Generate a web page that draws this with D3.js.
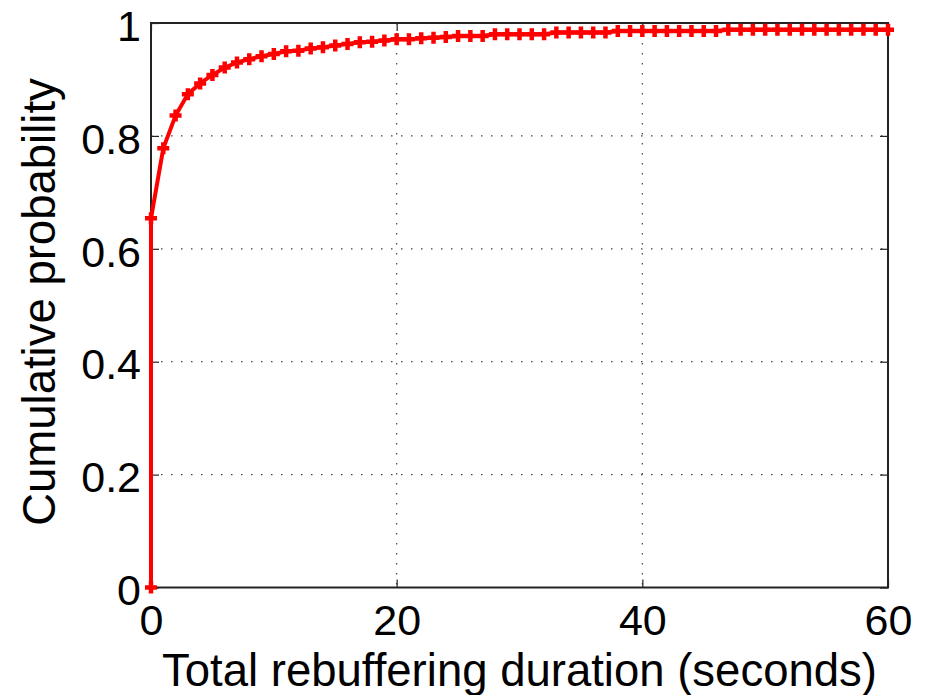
<!DOCTYPE html>
<html>
<head>
<meta charset="utf-8">
<script src="https://cdn.jsdelivr.net/npm/d3@7"></script>
<style>
  html, body { margin: 0; padding: 0; background: #fff; }
  svg { display: block; }
  text { font-family: "Liberation Sans", Arial, Helvetica, sans-serif; fill: #000; }
</style>
</head>
<body>
<svg id="chart" width="929" height="695"></svg>
<script>
// ---- data ----
const seconds = [0, 0, 1, 2, 3, 4, 5, 6, 7, 8, 9, 10, 11, 12, 13, 14, 15, 16, 17, 18, 19, 20,
  21, 22, 23, 24, 25, 26, 27, 28, 29, 30, 31, 32, 33, 34, 35, 36, 37, 38, 39, 40,
  41, 42, 43, 44, 45, 46, 47, 48, 49, 50, 51, 52, 53, 54, 55, 56, 57, 58, 59, 60];
const cdf = [0, 0.654, 0.778, 0.836, 0.874, 0.893, 0.908, 0.921, 0.930, 0.936, 0.941, 0.945,
  0.950, 0.951, 0.955, 0.957, 0.960, 0.963, 0.966, 0.967, 0.969, 0.971,
  0.971, 0.973, 0.974, 0.975, 0.977, 0.977, 0.977, 0.980, 0.980, 0.980, 0.980, 0.980,
  0.983, 0.983, 0.983, 0.983, 0.983, 0.986, 0.986, 0.986, 0.986, 0.986, 0.986, 0.986,
  0.986, 0.986, 0.988, 0.988, 0.988, 0.988, 0.988, 0.988, 0.988, 0.988, 0.988, 0.988,
  0.988, 0.988, 0.988, 0.988];
const xTicks = [0, 20, 40, 60];
const yTicks = [0, 0.2, 0.4, 0.6, 0.8, 1];
const xLabel = "Total rebuffering duration (seconds)";
const yLabel = "Cumulative probability";

// ---- layout ----
const W = 929, H = 695;
const m = { left: 151, top: 23, right: 41, bottom: 107.5 };
const iw = W - m.left - m.right, ih = H - m.top - m.bottom;

const svg = d3.select("#chart");
const g = svg.append("g").attr("transform", `translate(${m.left},${m.top})`);

const x = d3.scaleLinear().domain([0, 60]).range([0, iw]);
const y = d3.scaleLinear().domain([0, 1]).range([ih, 0]);

// grid (dotted)
const gridStyle = sel => sel.attr("stroke", "#444").attr("stroke-width", 1.2)
  .attr("stroke-dasharray", "1.5,8.5");
g.append("g").selectAll("line").data(xTicks.filter(d => d > 0 && d < 60)).join("line")
  .attr("x1", d => x(d)).attr("x2", d => x(d)).attr("y1", 0).attr("y2", ih).call(gridStyle);
g.append("g").selectAll("line").data(yTicks.filter(d => d > 0 && d < 1)).join("line")
  .attr("x1", 0).attr("x2", iw).attr("y1", d => y(d)).attr("y2", d => y(d)).call(gridStyle);

// axes with inward ticks
const fontSize = 43;
const axB = g.append("g").attr("transform", `translate(0,${ih})`)
  .call(d3.axisBottom(x).tickValues(xTicks).tickSizeInner(-8).tickSizeOuter(0).tickPadding(20).tickFormat(d3.format("d")));
const axT = g.append("g")
  .call(d3.axisTop(x).tickValues(xTicks).tickSizeInner(-8).tickSizeOuter(0).tickFormat(""));
const axL = g.append("g")
  .call(d3.axisLeft(y).tickValues(yTicks).tickSizeInner(-8).tickSizeOuter(0).tickPadding(10).tickFormat(d => d === 0 || d === 1 ? d3.format("d")(d) : d3.format(".1f")(d)));
const axR = g.append("g").attr("transform", `translate(${iw},0)`)
  .call(d3.axisRight(y).tickValues(yTicks).tickSizeInner(-8).tickSizeOuter(0).tickFormat(""));
[axB, axT, axL, axR].forEach(a => {
  a.select(".domain").remove();
  a.selectAll(".tick line").attr("stroke", "#222").attr("stroke-width", 1.2);
  a.selectAll("text").attr("font-size", fontSize).attr("fill", "#000")
    .style("font-family", '"Liberation Sans", Arial, Helvetica, sans-serif');
});
axB.selectAll("text").attr("dy", 0).attr("y", 635 - m.top - ih);
axL.selectAll("text").attr("dy", "0.4em");

// frame
g.append("rect").attr("x", 0).attr("y", 0).attr("width", iw).attr("height", ih)
  .attr("fill", "none").attr("stroke", "#222").attr("stroke-width", 2);

// series
const pts = seconds.map((s, i) => [s, cdf[i]]);
const line = d3.line().x(d => x(d[0])).y(d => y(d[1]));
g.append("path").datum(pts).attr("d", line)
  .attr("fill", "none").attr("stroke", "#ff0000").attr("stroke-width", 4)
  .attr("stroke-linejoin", "round");
const s = 6;
g.append("g").selectAll("path").data(pts).join("path")
  .attr("d", d => `M${x(d[0]) - s},${y(d[1])}H${x(d[0]) + s}M${x(d[0])},${y(d[1]) - s}V${y(d[1]) + s}`)
  .attr("stroke", "#ff0000").attr("stroke-width", 4.5).attr("fill", "none");

// labels
svg.append("text").attr("x", m.left + iw / 2).attr("y", 686)
  .attr("text-anchor", "middle").attr("font-size", 45.5).text(xLabel);
svg.append("text").attr("transform", `translate(55,302) rotate(-90)`)
  .attr("text-anchor", "middle").attr("font-size", 45.5).text(yLabel);
</script>
</body>
</html>
